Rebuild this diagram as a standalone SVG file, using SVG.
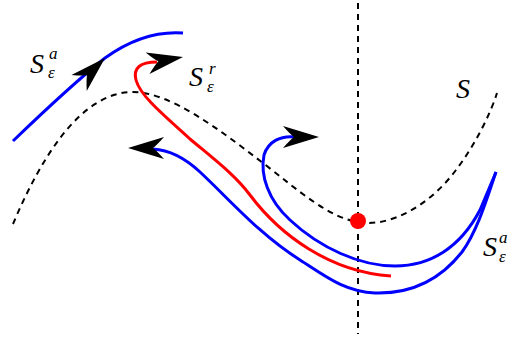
<svg xmlns="http://www.w3.org/2000/svg" xmlns:xlink="http://www.w3.org/1999/xlink" width="508" height="340" viewBox="0 0 508 340">
<style>
.dash{fill:none;stroke:#000;stroke-width:2;stroke-dasharray:6,5}
.blue{fill:none;stroke:#0000ff;stroke-width:3;stroke-linecap:butt}
.red{fill:none;stroke:#ff0000;stroke-width:3}
.lbl{font-family:"Liberation Serif",serif;font-style:italic;fill:#000}
.big{font-size:28px}
.sm{font-size:17px}
</style>
<defs>
<path id="ah" d="M0,0 L-36,-11 Q-29,-3 -25,0 Q-29,3 -36,11 Z" fill="#000"/>
</defs>
<rect width="508" height="340" fill="#fff"/>
<g id="axis">
<line x1="358" y1="3" x2="358" y2="334" class="dash"/>
</g>
<g id="critical">
<path class="dash" d="M13,224 C40,160 80,92 133,92 C170,92 220,130 263,163 C300,192 330,218 358,222 C390,228 430,205 456,170 C475,145 490,115 497,93"/>
</g>
<g id="connectors">
<path id="sa-left" class="blue" d="M13,141 C40,115 80,78 105,58 C130,40 155,31 183,33"/>
<path id="sr" class="red" d="M157,62 C140,62 133,68 136,80 C140,95 160,112 190,139 C215,160 235,175 250,195 C280,235 330,272 391,276"/>
<path id="traj-upper" class="blue" d="M296,137 C280,135 268,142 264,155 C260,175 268,200 290,220 C320,248 360,266 395,266 C430,266 460,248 480,210 L496,172"/>
<path id="traj-lower" class="blue" d="M153,149 C170,150 185,158 200,172 C230,200 260,235 300,260 C325,276 345,292 375,293 C410,294 440,280 462,252 C478,230 488,195 496,172"/>
<use xlink:href="#ah" transform="translate(105,58) rotate(-44)"/>
<use xlink:href="#ah" transform="translate(183,57) rotate(-10)"/>
<use xlink:href="#ah" transform="translate(319,137)"/>
<use xlink:href="#ah" transform="translate(128,148) rotate(180)"/>
</g>
<g id="fold-point">
<circle cx="358" cy="221" r="8" fill="#ff0000"/>
</g>
<g id="labels">
<text class="lbl big" x="30" y="73">S</text>
<text class="lbl sm" x="49" y="59">a</text>
<text class="lbl sm" x="48" y="78">ε</text>
<text class="lbl big" x="189" y="86">S</text>
<text class="lbl sm" x="209" y="74">r</text>
<text class="lbl sm" x="207" y="92">ε</text>
<text class="lbl big" x="456" y="98">S</text>
<text class="lbl big" x="483" y="256">S</text>
<text class="lbl sm" x="499" y="243">a</text>
<text class="lbl sm" x="499" y="262">ε</text>
</g>
</svg>
